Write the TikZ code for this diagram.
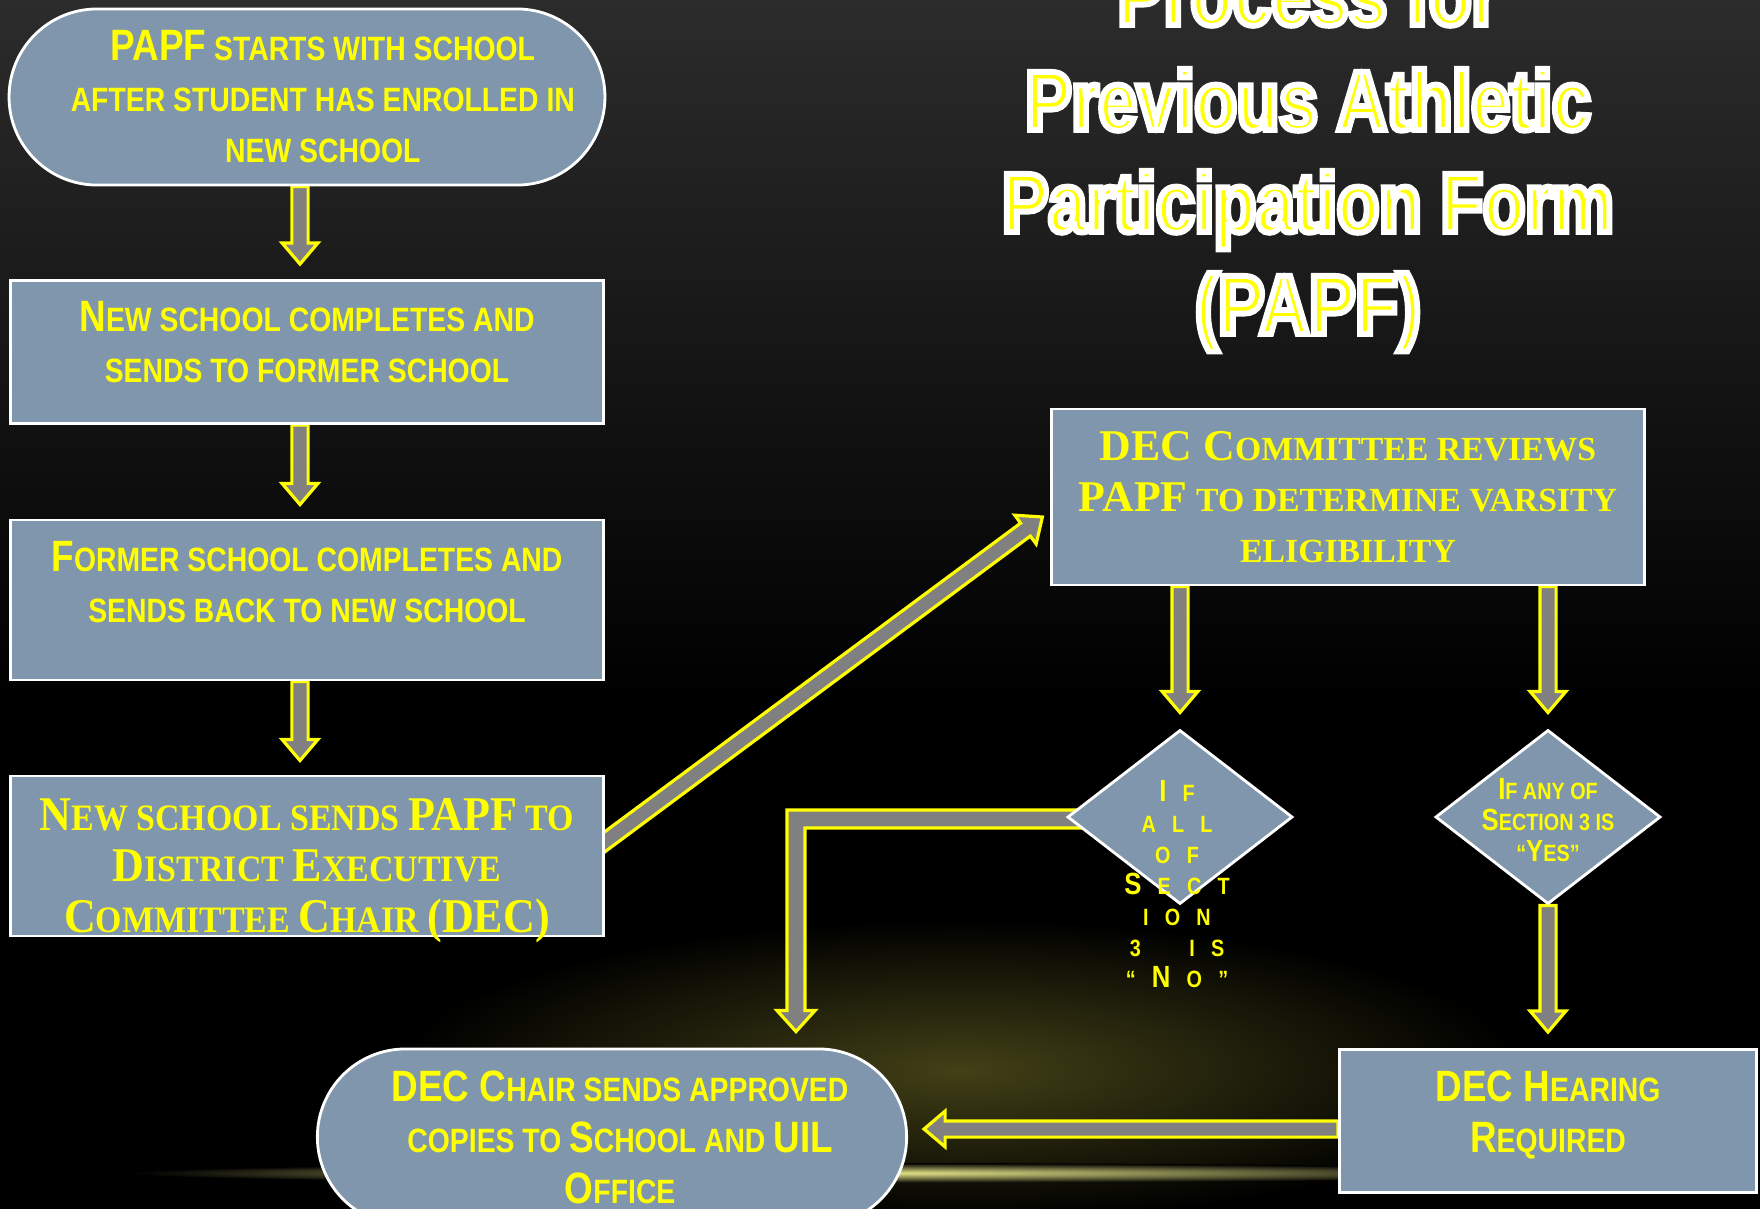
\documentclass[tikz,border=0pt]{standalone}
\usepackage{fontspec}
\usepackage{graphicx}
\usetikzlibrary{positioning,calc,shapes.geometric,shapes.misc}
\setmainfont{Liberation Sans}
\newfontfamily\condsans[FakeStretch=0.84]{Liberation Sans}
\newfontfamily\condserif[FakeStretch=0.91]{Liberation Serif}
\newfontfamily\wideserif{Liberation Serif}
\newfontface\titleface[FakeStretch=0.82,FakeBold=7]{Liberation Sans Bold}
\definecolor{boxblue}{RGB}{128,150,172}
\definecolor{arrowgray}{RGB}{128,128,128}
\definecolor{papfyellow}{RGB}{255,255,0}
\definecolor{bgtop}{RGB}{44,44,44}
\definecolor{glowyellow}{RGB}{66,64,22}
\definecolor{streak}{RGB}{235,235,140}
\newcommand{\bigc}[1]{\scalebox{1.3}{#1}}
\newcommand{\ls}{\hspace{4.6pt}}
\newcommand{\whiteedge}{\special{pdf:literal direct 1 1 1 RG}}
\pgfdeclarelayer{bg}
\pgfdeclarelayer{behind}
\pgfsetlayers{bg,behind,main}
\tikzset{
  flowbox/.style={rectangle, draw=white, line width=0.8pt, fill=boxblue, text=papfyellow, align=center, inner sep=2pt, minimum width=5.93cm, font=\condsans\bfseries\fontsize{9.6}{14.5}\selectfont},
  startstop/.style={flowbox, rounded rectangle},
  serifbox/.style={flowbox, font=\condserif\bfseries\fontsize{10.6}{14.5}\selectfont},
  decision/.style={diamond, draw=white, line width=0.8pt, fill=boxblue, minimum width=2.25cm, minimum height=1.74cm, inner sep=0pt},
  dtext/.style={text=papfyellow, align=center, inner sep=0pt, font=\condsans\bfseries\fontsize{6.7}{8.8}\selectfont},
  titleline/.style={anchor=base, text=papfyellow, font=\titleface\fontsize{24}{30}\selectfont},
  blockarrow/.style={fill=arrowgray, draw=papfyellow, line width=0.9pt, line join=miter},
}
\newcommand{\barrow}[2]{%
  \draw[blockarrow] let \p1=(#1), \p2=(#2), \n1={atan2(\y2-\y1,\x2-\x1)}, \n2={veclen(\x2-\x1,\y2-\y1)} in
    {[shift={(\p1)},rotate=\n1] (0pt,-2.3pt) -- ({\n2*1pt-6pt},-2.3pt) -- ({\n2*1pt-6pt},-5.1pt) -- ({\n2*1pt},0pt)
      -- ({\n2*1pt-6pt},5.1pt) -- ({\n2*1pt-6pt},2.3pt) -- (0pt,2.3pt) -- cycle};}
\begin{document}
\begin{tikzpicture}[x=0.01cm,y=-0.01cm]
	\useasboundingbox (0,0) rectangle (1760,1209);
	\begin{pgfonlayer}{bg}
	\fill[black] (0,0) rectangle (1760,1209);
	\shade[top color=bgtop, bottom color=black] (0,0) rectangle (1760,700);
	\shade[inner color=glowyellow, outer color=black] (960,1070) ellipse (560 and 150);
	\shade[inner color=streak, outer color=black] (850,1173) ellipse (720 and 10);
	\end{pgfonlayer}
	% title
	\node[titleline] (title1) at (1308,25) {\whiteedge Process for};
	\node[titleline] (title2) at (1308,130) {\whiteedge Previous Athletic};
	\node[titleline] (title3) at (1308,232) {\whiteedge Participation Form};
	\node[titleline] (title4) at (1308,334) {\whiteedge (PAPF)};
	% left column
	\node[startstop, inner xsep=0pt, minimum height=1.76cm] (start) at (307,97) {\hspace*{9pt}\bigc{PAPF} STARTS WITH SCHOOL\\\hspace*{9pt}AFTER STUDENT HAS ENROLLED IN\\\hspace*{9pt}NEW SCHOOL};
	\node[flowbox, minimum height=1.43cm, text depth=6pt] (newsch) at (307,352) {\bigc{N}EW SCHOOL COMPLETES AND\\SENDS TO FORMER SCHOOL};
	\node[flowbox, minimum height=1.60cm, text depth=10.5pt] (formsch) at (307,600) {\bigc{F}ORMER SCHOOL COMPLETES AND\\SENDS BACK TO NEW SCHOOL};
	\node[serifbox, minimum height=1.60cm, text height=46.6pt, inner ysep=-3pt] (senddec) at (307,856) {\bigc{N}EW SCHOOL SENDS \bigc{PAPF} TO\\\bigc{D}ISTRICT \bigc{E}XECUTIVE\\\bigc{C}OMMITTEE \bigc{C}HAIR \bigc{(DEC)}};
	% right side
	\node[flowbox, minimum width=5.92cm, minimum height=1.76cm, font=\wideserif\bfseries\fontsize{9.6}{14.5}\selectfont] (review) at (1348,497) {\bigc{DEC C}OMMITTEE REVIEWS\\\bigc{PAPF} TO DETERMINE VARSITY\\ELIGIBILITY};
	\node[decision] (allno) at (1180,817) {};
	\node[decision] (anyyes) at (1548,817) {};
	\node[dtext] (allnotxt) at (1177,884) {\bigc{I}\ls F\\A\ls L\ls L\\O\ls F\\\bigc{S}\ls E\ls C\ls T\\I\ls O\ls N\\3\ls\ls\ls I\ls S\\“\ls\bigc{N}\ls O\ls ”};
	\node[dtext] (anyyestxt) at (1548,820) {\bigc{I}F ANY OF\\\bigc{S}ECTION 3 IS\\“\bigc{Y}ES”};
	\node[flowbox, minimum width=4.17cm, minimum height=1.43cm, text depth=5.5pt] (hearing) at (1548,1121) {\bigc{DEC H}EARING\\\bigc{R}EQUIRED};
	\node[startstop, minimum width=6.03cm, minimum height=1.76cm] (finish) at (612,1137) {\hspace*{4.6pt}\bigc{DEC C}HAIR SENDS APPROVED\\\hspace*{4.6pt}COPIES TO \bigc{S}CHOOL AND \bigc{UIL}\\\hspace*{4.6pt}\bigc{O}FFICE};
	% block arrows
	\begin{pgfonlayer}{behind}
	\coordinate (col) at (300,0);
	\coordinate (bendcol) at (796,0);
	\coordinate (bendtip) at ($(bendcol |- finish.north)+(0,-16)$);
	\barrow{start.south -| col}{$(newsch.north -| col)+(0,-15)$}
	\barrow{newsch.south -| col}{$(formsch.north -| col)+(0,-14)$}
	\barrow{formsch.south -| col}{$(senddec.north -| col)+(0,-14)$}
	\barrow{$(senddec.east)+(-10,-7)$}{$(review.west)+(-8,20)$}
	\barrow{review.south -| allno}{$(allno.north)+(0,-16)$}
	\barrow{review.south -| anyyes}{$(anyyes.north)+(0,-16)$}
	\barrow{anyyes.south}{$(hearing.north)+(0,-16)$}
	\barrow{$(hearing.west)+(0,8)$}{$(finish.east |- hearing.west)+(16,8)$}
	\draw[blockarrow] ($(allno.west)+(40,-7)$) -- ($(allno.west -| bendcol)+(-9,-7)$) -- ($(bendtip)+(-9,-21)$)
		-- ($(bendtip)+(-19,-21)$) -- (bendtip) -- ($(bendtip)+(19,-21)$) -- ($(bendtip)+(9,-21)$)
		-- ($(allno.west -| bendcol)+(9,11)$) -- ($(allno.west)+(40,11)$) -- cycle;
	\end{pgfonlayer}
\end{tikzpicture}
\end{document}
